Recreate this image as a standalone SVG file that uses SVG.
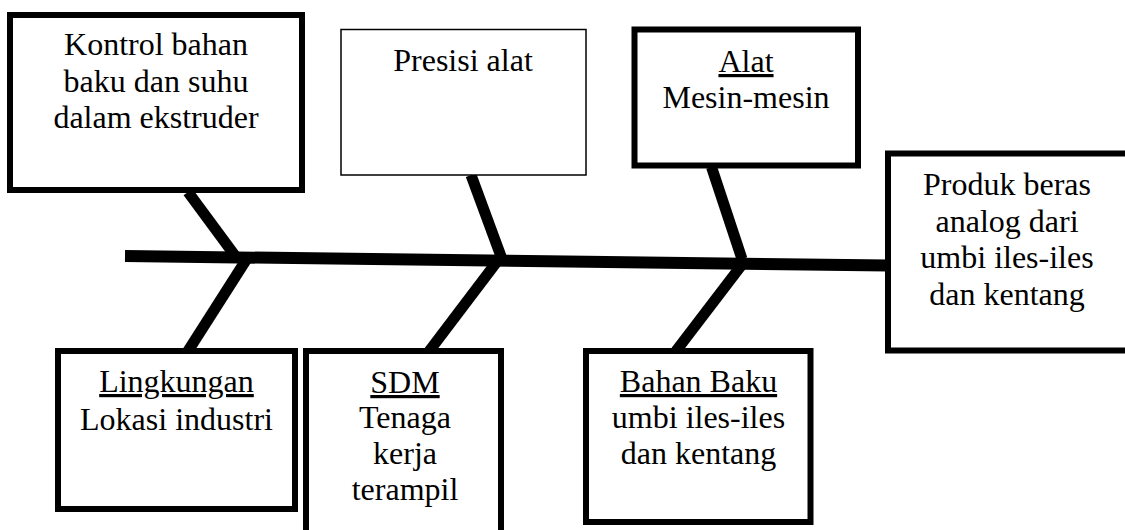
<svg xmlns="http://www.w3.org/2000/svg" width="1125" height="530" viewBox="0 0 1125 530">
<style>
text{font-family:"Liberation Serif","Times New Roman",serif;font-size:32px;fill:#000;text-anchor:middle}
.box{fill:#fff;stroke:#000;stroke-width:6}
.thin{fill:#fff;stroke:#000;stroke-width:1.5}
.u{text-decoration:underline}
.bone{stroke:#000;stroke-width:11;fill:none}
.spine{stroke:#000;stroke-width:12;fill:none}
</style>
<rect width="1125" height="530" fill="#fff"/>
<g id="connectors">
<line class="spine" x1="125" y1="256" x2="888" y2="265.5"/>
<line class="bone" x1="188" y1="192" x2="236" y2="257"/>
<line class="bone" x1="248" y1="257" x2="188" y2="351"/>
<line class="bone" x1="471" y1="175" x2="502" y2="259"/>
<line class="bone" x1="499" y1="259" x2="427" y2="354"/>
<line class="bone" x1="711.5" y1="167" x2="742" y2="259"/>
<line class="bone" x1="744" y1="262" x2="676" y2="351"/>
</g>
<g id="kontrol">
<rect class="box" x="10" y="15" width="292" height="175"/>
<text x="156" y="55">Kontrol bahan</text>
<text x="156" y="92">baku dan suhu</text>
<text x="156" y="128">dalam ekstruder</text>
</g>
<g id="presisi">
<rect class="thin" x="341" y="29.5" width="245" height="145.5"/>
<text x="463" y="71">Presisi alat</text>
</g>
<g id="alat">
<rect class="box" x="634.5" y="29.5" width="223.5" height="136"/>
<text class="u" x="746" y="72">Alat</text>
<text x="746" y="108">Mesin-mesin</text>
</g>
<g id="produk">
<rect class="box" x="888" y="153.5" width="260" height="197"/>
<text x="1007" y="195">Produk beras</text>
<text x="1007" y="232">analog dari</text>
<text x="1007" y="268">umbi iles-iles</text>
<text x="1007" y="305">dan kentang</text>
</g>
<g id="lingkungan">
<rect class="box" x="58" y="351" width="237" height="158"/>
<text class="u" x="176.5" y="392">Lingkungan</text>
<text x="176.5" y="430">Lokasi industri</text>
</g>
<g id="sdm">
<rect class="box" x="306" y="351" width="195" height="200"/>
<text class="u" x="405" y="393">SDM</text>
<text x="405" y="428">Tenaga</text>
<text x="405" y="464">kerja</text>
<text x="405" y="500">terampil</text>
</g>
<g id="bahanbaku">
<rect class="box" x="586" y="351" width="224.5" height="171"/>
<text class="u" x="698.5" y="392">Bahan Baku</text>
<text x="698.5" y="428">umbi iles-iles</text>
<text x="698.5" y="464">dan kentang</text>
</g>
</svg>
